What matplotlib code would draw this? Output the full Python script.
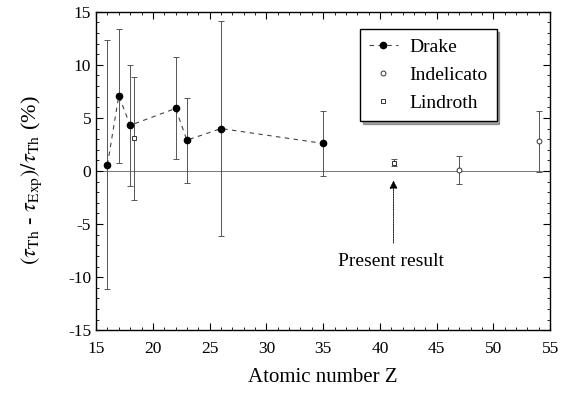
import matplotlib
matplotlib.use("Agg")
import matplotlib.pyplot as plt
from matplotlib.ticker import MultipleLocator

plt.rcParams['font.family'] = ['Liberation Serif', 'DejaVu Serif']
plt.rcParams['mathtext.fontset'] = 'stix'
plt.rcParams['axes.unicode_minus'] = False

# Data
drake_z = [16, 17, 18, 22, 23, 26, 35]
drake_v = [0.6, 7.1, 4.3, 5.9, 2.9, 4.0, 2.6]
drake_e = [11.7, 6.3, 5.7, 4.8, 4.0, 10.1, 3.1]

indel_z = [47, 54]
indel_v = [0.1, 2.8]
indel_e = [1.3, 2.9]

lind_z = [18.3]
lind_v = [3.1]
lind_e = [5.8]

present_z = [41.2]
present_v = [0.8]
present_e = [0.3]

xticks = [15, 20, 25, 30, 35, 40, 45, 50, 55]
yticks = [-15, -10, -5, 0, 5, 10, 15]

fig = plt.figure(figsize=(5.62, 3.94), dpi=100)
ax = fig.add_axes([0.171, 0.162, 0.808, 0.808])

ax.axhline(0, color='#777777', lw=0.7, zorder=1)

ecol = '#555555'
ebkw = dict(fmt='none', ecolor=ecol, elinewidth=0.7, capsize=2, capthick=0.7, zorder=2)
ax.errorbar(drake_z, drake_v, yerr=drake_e, **ebkw)
ax.errorbar(indel_z, indel_v, yerr=indel_e, **ebkw)
ax.errorbar(lind_z, lind_v, yerr=lind_e, **ebkw)
ax.errorbar(present_z, present_v, yerr=present_e, **ebkw)

ax.plot(drake_z, drake_v, ls=(0, (4, 4)), color='#444444', lw=0.8, marker='o',
        ms=4.5, mfc='black', mec='black', label='Drake', zorder=3)
ax.plot(indel_z, indel_v, ls='none', marker='o', ms=3.5, mfc='white', mec='#333333',
        mew=0.7, label='Indelicato', zorder=3)
ax.plot(lind_z, lind_v, ls='none', marker='s', ms=3.5, mfc='white', mec='#333333',
        mew=0.7, label='Lindroth', zorder=3)
ax.plot(present_z, present_v, ls='none', marker='s', ms=3.5, mfc='white', mec='#333333',
        mew=0.7, zorder=3)

ax.annotate('', xy=(41.2, -0.9), xytext=(41.2, -6.8),
            arrowprops=dict(arrowstyle='-|>', color='black', lw=0.6, ls=(0, (2, 1)),
                            mutation_scale=12, shrinkA=0, shrinkB=0))
ax.text(41.0, -8.5, 'Present result', ha='center', va='center', fontsize=14)

ax.set_xlim(15, 55)
ax.set_ylim(-15, 15)
ax.set_xticks(xticks)
ax.set_yticks(yticks)
ax.xaxis.set_minor_locator(MultipleLocator(1))
ax.yaxis.set_minor_locator(MultipleLocator(1))
ax.tick_params(which='both', direction='in', top=True, right=True, labelsize=12.5)
ax.tick_params(which='major', length=5, width=0.8)
ax.tick_params(which='minor', length=2.5, width=0.6)
ax.tick_params(axis='x', pad=8)
for s in ax.spines.values():
    s.set_linewidth(1.0)

ax.set_xlabel('Atomic number Z', fontsize=15, labelpad=8)
ax.set_ylabel(r'$(\tau_{\rm Th}$ - $\tau_{\rm Exp})/\tau_{\rm Th}$ (%)', fontsize=16, labelpad=14)
ax.yaxis.set_label_coords(-0.115, 0.47)

leg = ax.legend(loc='upper left', bbox_to_anchor=(0.581, 0.945), fontsize=14,
                frameon=True, fancybox=False, shadow=True,
                handlelength=1.5, borderpad=0.45, labelspacing=0.55, handletextpad=0.6,
                borderaxespad=0)
leg.get_frame().set_edgecolor('black')
leg.get_frame().set_linewidth(1.0)
for t in leg.get_texts():
    t.set_fontfamily('Liberation Serif')

fig.savefig('out.png', dpi=100)
